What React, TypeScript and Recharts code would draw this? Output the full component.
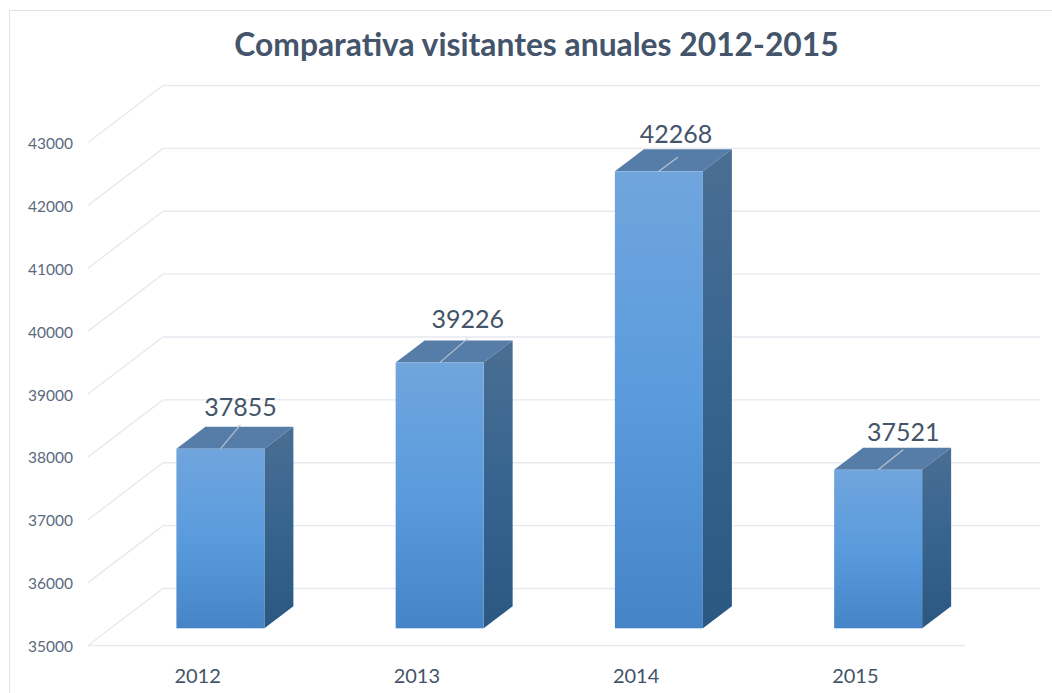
import React from "react";
import { ComposedChart, Bar, XAxis, YAxis, CartesianGrid, LabelList } from "recharts";

const years = ["2012", "2013", "2014", "2015"];
const visitors = [37855, 39226, 42268, 37521];
const yTicks = [35000, 36000, 37000, 38000, 39000, 40000, 41000, 42000, 43000];
const labelOffsets = [[20, -43], [28, -45], [17, -38], [25, -39]];
const leaderEnds = [[20, -24], [28, -24], [19, -14], [25, -20]];
const chartTitle = "Comparativa visitantes anuales 2012-2015";

const rows = years.map((year, i) => ({ year, visitors: visitors[i] }));

const FONT = "Lato, 'Open Sans', sans-serif";
const WALL_DX = 75;
const WALL_DY = 57;
const BAR_SHIFT_X = 22.4;
const BAR_SHIFT_Y = 17.2;
const DEPTH_X = 29;
const DEPTH_Y = 22;
const GRID = "#e7e9ef";

const GridLine = (p: any) => {
  const { x1, x2, y1 } = p;
  const isFloor = Math.abs(y1 - 645.5) < 1;
  return (
    <g fill="none" stroke={GRID} strokeWidth={1.4}>
      <polyline points={`${x1},${y1} ${x1 + WALL_DX},${y1 - WALL_DY} ${x2 + WALL_DX},${y1 - WALL_DY}`} />
      {isFloor && <line x1={x1} y1={y1} x2={x2} y2={y1} />}
    </g>
  );
};

const Box = (p: any) => {
  const x = p.x + BAR_SHIFT_X;
  const y = p.y - BAR_SHIFT_Y;
  const w = p.width;
  const h = p.height;
  const i = p.index;
  return (
    <g>
      <defs>
        <linearGradient id={`front${i}`} x1="0" y1="0" x2="0" y2="1">
          <stop offset="0" stopColor="#70a5dd" />
          <stop offset="0.5" stopColor="#5a9bdd" />
          <stop offset="1" stopColor="#4585c7" />
        </linearGradient>
        <linearGradient id={`side${i}`} x1="0" y1="0" x2="0" y2="1">
          <stop offset="0" stopColor="#4b6e93" />
          <stop offset="0.5" stopColor="#36648f" />
          <stop offset="1" stopColor="#2a5881" />
        </linearGradient>
      </defs>
      <polygon points={`${x},${y} ${x + DEPTH_X},${y - DEPTH_Y} ${x + w + DEPTH_X},${y - DEPTH_Y} ${x + w},${y}`} fill="#567ca8" />
      <polygon points={`${x + w},${y} ${x + w + DEPTH_X},${y - DEPTH_Y} ${x + w + DEPTH_X},${y + h - DEPTH_Y} ${x + w},${y + h}`} fill={`url(#side${i})`} />
      <rect x={x} y={y} width={w} height={h} fill={`url(#front${i})`} />
    </g>
  );
};

const ValueLabel = (p: any) => {
  const { x, y, width, index, value } = p;
  const cx = x + BAR_SHIFT_X + width / 2;
  const top = y - BAR_SHIFT_Y;
  const [lx, ly] = labelOffsets[index];
  const [ex, ey] = leaderEnds[index];
  return (
    <g>
      <line x1={cx} y1={top} x2={cx + ex} y2={top + ey} stroke="#b9c3cf" strokeWidth={1.2} />
      <text x={cx + lx} y={top + ly} textAnchor="middle" dominantBaseline="central" fontFamily={FONT} fontSize={25} fill="#44546a">
        {value}
      </text>
    </g>
  );
};

export default function App() {
  return (
    <div style={{ position: "absolute", left: 0, top: 0, width: 1052, height: 693, overflow: "hidden", background: "#fff" }}>
      <div style={{ position: "absolute", left: 9, top: 10, width: 1100, height: 800, borderLeft: "1px solid #dfe3ec", borderTop: "1px solid #dfe3ec" }} />
      <div style={{ position: "absolute", left: 0, width: 1073, top: 21, textAlign: "center", fontFamily: FONT, fontWeight: 700, fontSize: 31.8, lineHeight: "46px", color: "#44546a", whiteSpace: "nowrap" }}>
        {chartTitle}
      </div>
      <div style={{ position: "absolute", left: 0, top: 0 }}>
        <ComposedChart width={1052} height={693} data={rows} margin={{ left: 0, right: 87, top: 142.5, bottom: 0 }} barCategoryGap={0}>
          <CartesianGrid vertical={false} horizontal={GridLine as any} />
          <XAxis dataKey="year" height={47.5} axisLine={false} tickLine={false} tickSize={0} tickMargin={23} tick={{ fontFamily: FONT, fontSize: 20, fill: "#44546a" }} />
          <YAxis width={88} domain={[35000, 43000]} ticks={yTicks} interval={0} axisLine={false} tickLine={false} tickSize={0} tickMargin={15} dy={1} tick={{ fontFamily: FONT, fontSize: 15.5, fill: "#5a6a80" }} />
          <Bar dataKey="visitors" barSize={88} shape={Box as any} isAnimationActive={false}>
            <LabelList dataKey="visitors" content={ValueLabel as any} />
          </Bar>
        </ComposedChart>
      </div>
    </div>
  );
}
